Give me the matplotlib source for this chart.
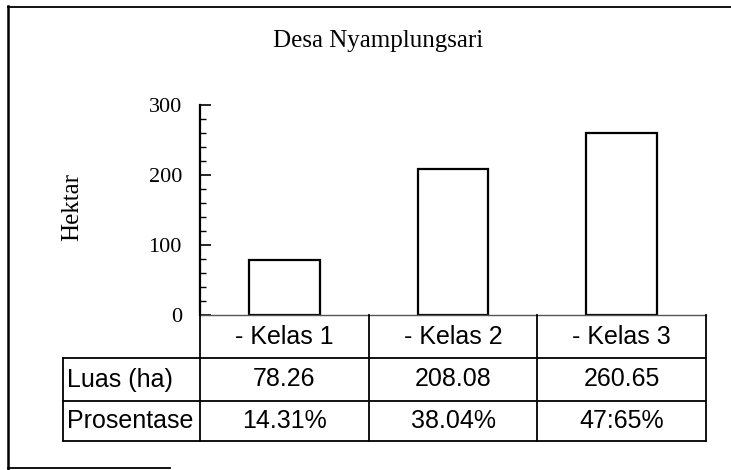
import matplotlib
matplotlib.use("Agg")
import matplotlib.pyplot as plt
from matplotlib.lines import Line2D
from matplotlib.ticker import MultipleLocator
import matplotlib.transforms as mtransforms

# Data
categories = ["- Kelas 1", "- Kelas 2", "- Kelas 3"]
luas_ha = [78.26, 208.08, 260.65]
prosentase = ["14.31%", "38.04%", "47:65%"]
row_labels = ["Luas (ha)", "Prosentase"]
title = "Desa Nyamplungsari"
ylabel = "Hektar"
yticks = [0, 100, 200, 300]

plt.rcParams["font.family"] = ["Liberation Serif", "DejaVu Serif"]
SANS = ["Liberation Sans", "DejaVu Sans"]

W, H = 731, 470
fig = plt.figure(figsize=(W / 100, H / 100), dpi=100)
fig.patch.set_facecolor("white")


def fx(px):
    return px / W


def fy(py):
    return 1 - py / H


# Plot area (pixel box)
ax_left, ax_right, ax_top, ax_bottom = 200, 706, 105, 315
ax = fig.add_axes([fx(ax_left), fy(ax_bottom),
                   (ax_right - ax_left) / W, (ax_bottom - ax_top) / H])
ax.patch.set_alpha(0)

xpos = list(range(len(categories)))
ax.bar(xpos, luas_ha, width=0.42, facecolor="white", edgecolor="black",
       linewidth=1.6, zorder=3)
ax.set_xlim(-0.5, len(categories) - 0.5)
ax.set_ylim(0, 300)
ax.set_yticks(yticks)
ax.yaxis.set_minor_locator(MultipleLocator(20))
ax.tick_params(axis="y", which="major", direction="in", length=8, width=1.2,
               pad=13, labelsize=16)
ax.tick_params(axis="y", which="minor", direction="in", length=4, width=1.0)
ax.set_xticks([])
for s in ["top", "right", "bottom"]:
    ax.spines[s].set_visible(False)
ax.spines["left"].set_linewidth(1.6)

# Data table below the plot
bt = mtransforms.blended_transform_factory(ax.transData, fig.transFigure)
edges = [i - 0.5 for i in range(len(categories) + 1)]
lw = 1.3
row_y = [315, 358, 401, 441]
label_left = 63

# horizontal lines
fig.add_artist(Line2D([edges[0], edges[-1]], [fy(row_y[0])] * 2,
                      transform=bt, color="#555555", lw=1.0))
right_fig = bt.transform((edges[-1], 0))[0]
right_fig = fig.transFigure.inverted().transform((right_fig, 0))[0]
for yy in row_y[1:]:
    fig.add_artist(Line2D([fx(label_left), right_fig], [fy(yy)] * 2,
                          transform=fig.transFigure, color="black", lw=lw))
# vertical lines
for e in edges:
    fig.add_artist(Line2D([e, e], [fy(row_y[0]), fy(row_y[-1])],
                          transform=bt, color="black", lw=lw))
fig.add_artist(Line2D([fx(label_left)] * 2, [fy(row_y[1]), fy(row_y[-1])],
                      transform=fig.transFigure, color="black", lw=lw))

row_centers = [(row_y[i] + row_y[i + 1]) / 2 for i in range(3)]
for i, cat in enumerate(categories):
    fig.text(xpos[i], fy(row_centers[0]), cat, transform=bt, ha="center",
             va="center", fontsize=18, family=SANS)
    fig.text(xpos[i], fy(row_centers[1]), f"{luas_ha[i]:.2f}", transform=bt,
             ha="center", va="center", fontsize=18, family=SANS)
    fig.text(xpos[i], fy(row_centers[2]), prosentase[i], transform=bt,
             ha="center", va="center", fontsize=18, family=SANS)
for j, lab in enumerate(row_labels):
    fig.text(fx(label_left + 4), fy(row_centers[j + 1]), lab, ha="left",
             va="center", fontsize=18, family=SANS)

# Title and axis label
fig.text(fx(378), fy(41), title, ha="center", va="center", fontsize=18)
fig.text(fx(72), fy(207), ylabel, ha="center", va="center", rotation=90,
         fontsize=18)

# Outer frame
fig.add_artist(Line2D([fx(8), fx(8)], [fy(6), fy(469)],
                      transform=fig.transFigure, color="black", lw=1.8))
fig.add_artist(Line2D([fx(8), fx(731)], [fy(7), fy(7)],
                      transform=fig.transFigure, color="black", lw=1.3))
fig.add_artist(Line2D([fx(8), fx(170)], [fy(468), fy(468)],
                      transform=fig.transFigure, color="black", lw=1.3))

fig.savefig("out.png", dpi=100)
